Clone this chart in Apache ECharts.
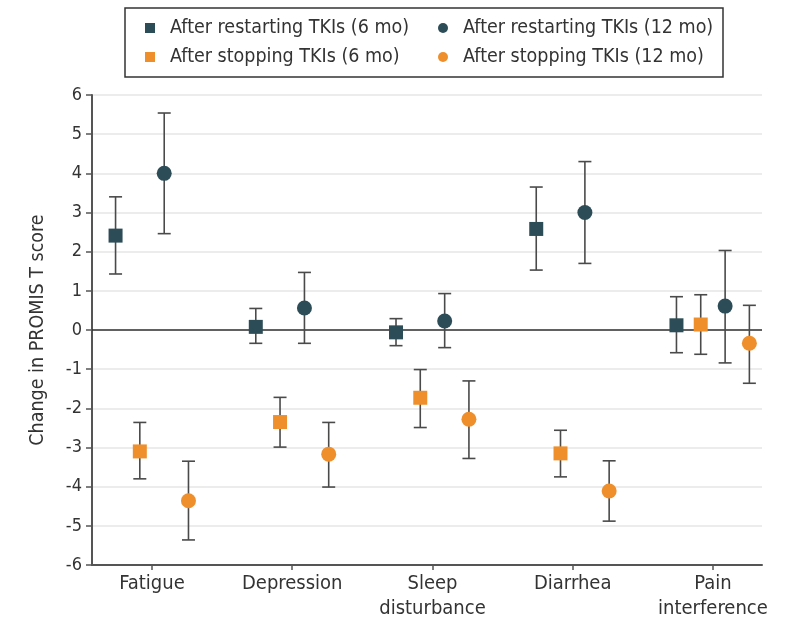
<!DOCTYPE html>
<html>
<head>
<meta charset="utf-8">
<script src="https://cdn.jsdelivr.net/npm/echarts@6/dist/echarts.min.js"></script>
<style>html,body{margin:0;padding:0;background:#fff;}#c{width:791px;height:621px;}</style>
</head>
<body>
<div id="c"></div>
<script>
const categories = ['Fatigue', 'Depression', 'Sleep\ndisturbance', 'Diarrhea', 'Pain\ninterference'];
const categoryPos = [1, 2, 3, 4, 5];
const yTicks = [-6, -5, -4, -3, -2, -1, 0, 1, 2, 3, 4, 5, 6];

const seriesNames = ['After restarting TKIs (6 mo)', 'After stopping TKIs (6 mo)', 'After restarting TKIs (12 mo)', 'After stopping TKIs (12 mo)'];
const legendOrder = ['After restarting TKIs (6 mo)', 'After restarting TKIs (12 mo)', 'After stopping TKIs (6 mo)', 'After stopping TKIs (12 mo)'];

const restart6   = [2.41, 0.08, -0.06, 2.58, 0.12];
const restart6Lo = [1.43, -0.34, -0.40, 1.53, -0.58];
const restart6Hi = [3.40, 0.55, 0.29, 3.65, 0.85];

const stop6   = [-3.10, -2.35, -1.73, -3.15, 0.14];
const stop6Lo = [-3.80, -2.99, -2.49, -3.75, -0.62];
const stop6Hi = [-2.36, -1.72, -1.01, -2.56, 0.90];

const restart12   = [4.00, 0.56, 0.23, 3.00, 0.61];
const restart12Lo = [2.46, -0.34, -0.45, 1.70, -0.84];
const restart12Hi = [5.54, 1.47, 0.93, 4.30, 2.03];

const stop12   = [-4.36, -3.17, -2.28, -4.11, -0.34];
const stop12Lo = [-5.36, -4.01, -3.28, -4.88, -1.36];
const stop12Hi = [-3.35, -2.36, -1.30, -3.34, 0.63];

const groupOffsets = [-0.26, -0.087, 0.087, 0.26];

const TEAL = '#2c4c57';
const ORANGE = '#ef8f2c';
const FONT = "'DejaVu Sans Condensed', 'Liberation Sans Narrow', 'Liberation Sans', sans-serif";

const groups = [
  {name: seriesNames[0], v: restart6, lo: restart6Lo, hi: restart6Hi, color: TEAL, symbol: 'rect', size: 14},
  {name: seriesNames[1], v: stop6, lo: stop6Lo, hi: stop6Hi, color: ORANGE, symbol: 'rect', size: 14},
  {name: seriesNames[2], v: restart12, lo: restart12Lo, hi: restart12Hi, color: TEAL, symbol: 'circle', size: 15},
  {name: seriesNames[3], v: stop12, lo: stop12Lo, hi: stop12Hi, color: ORANGE, symbol: 'circle', size: 15}
];

function errorRender(params, api) {
  const x = api.value(0), lo = api.value(1), hi = api.value(2);
  const p1 = api.coord([x, lo]);
  const p2 = api.coord([x, hi]);
  const w = 6.5;
  const st = {stroke: '#4a4a4a', lineWidth: 1.6};
  return {
    type: 'group',
    children: [
      {type: 'line', shape: {x1: p1[0], y1: p1[1], x2: p2[0], y2: p2[1]}, style: st},
      {type: 'line', shape: {x1: p1[0] - w, y1: p1[1], x2: p1[0] + w, y2: p1[1]}, style: st},
      {type: 'line', shape: {x1: p2[0] - w, y1: p2[1], x2: p2[0] + w, y2: p2[1]}, style: st}
    ]
  };
}

const series = [];
groups.forEach((g, gi) => {
  series.push({
    type: 'custom',
    name: 'eb' + gi,
    renderItem: errorRender,
    data: categoryPos.map((c, i) => [c + groupOffsets[gi], g.lo[i], g.hi[i]]),
    z: 2,
    silent: true
  });
});
groups.forEach((g, gi) => {
  const s = {
    type: 'scatter',
    name: g.name,
    symbol: g.symbol,
    symbolSize: g.size,
    itemStyle: {color: g.color, opacity: 1},
    data: categoryPos.map((c, i) => [c + groupOffsets[gi], g.v[i]]),
    z: 5
  };
  if (gi === 0) {
    s.markLine = {
      silent: true,
      symbol: ['none', 'none'],
      label: {show: false},
      lineStyle: {color: '#333', width: 1.5, type: 'solid'},
      data: [{yAxis: 0}],
      z: 1
    };
  }
  series.push(s);
});

const chart = echarts.init(document.getElementById('c'), null, {renderer: 'canvas'});
chart.setOption({
  animation: false,
  backgroundColor: '#fff',
  textStyle: {fontFamily: FONT},
  legend: {
    data: legendOrder.map(n => ({name: n, icon: n.indexOf('12') >= 0 ? 'circle' : 'rect'})),
    left: 125,
    top: 8,
    width: 600,
    orient: 'horizontal',
    itemWidth: 10,
    itemHeight: 10,
    itemGap: 9,
    padding: [10, 1, 10, 20],
    borderColor: '#333',
    borderWidth: 1.5,
    selectedMode: false,
    textStyle: {fontFamily: FONT, fontSize: 19.5, color: '#333', width: 259, lineHeight: 18, padding: [0, 0, 0, 10]}
  },
  grid: {left: 92, right: 29, top: 95, bottom: 55, containLabel: false},
  xAxis: {
    type: 'value',
    min: 0.572,
    max: 5.35,
    splitLine: {show: false},
    axisLine: {onZero: false, lineStyle: {color: '#555', width: 2}},
    axisTick: {show: true, customValues: categoryPos, length: 5, lineStyle: {color: '#555', width: 1.5}},
    axisLabel: {
      show: true,
      customValues: categoryPos,
      formatter: v => categories[Math.round(v) - 1] || '',
      fontFamily: FONT, fontSize: 20, color: '#333', lineHeight: 25, margin: 6,
      showMinLabel: true, showMaxLabel: true
    }
  },
  yAxis: {
    type: 'value',
    min: -6,
    max: 6,
    interval: 1,
    name: 'Change in PROMIS T score',
    nameLocation: 'middle',
    nameGap: 44,
    nameTextStyle: {fontFamily: FONT, fontSize: 19.5, color: '#333'},
    axisLine: {show: true, lineStyle: {color: '#555', width: 2}},
    axisTick: {show: true, length: 6, lineStyle: {color: '#555', width: 1.5}},
    axisLabel: {fontFamily: FONT, fontSize: 18, color: '#333', margin: 10},
    splitLine: {show: true, lineStyle: {color: '#e6e6e6', width: 1.5}}
  },
  series: series
});
</script>
</body>
</html>
